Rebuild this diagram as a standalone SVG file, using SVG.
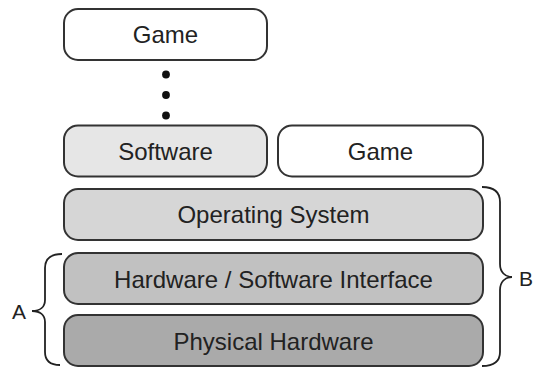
<svg xmlns="http://www.w3.org/2000/svg" width="535" height="367" viewBox="0 0 535 367">
<style>
.box{stroke:#333;stroke-width:2}
.lbl{font-family:"Liberation Sans",Arial,sans-serif;font-size:24px;fill:#222;text-anchor:middle}
.brace{fill:none;stroke:#222;stroke-width:1.8}
.side{font-family:"Liberation Sans",Arial,sans-serif;font-size:21px;fill:#222;text-anchor:middle}
</style>
<rect width="535" height="367" fill="#fff"/>
<g id="game-top">
<rect class="box" x="64" y="9" width="203" height="51" rx="14" fill="#fff"/>
<text class="lbl" x="165.5" y="43.4">Game</text>
</g>
<g id="dots" fill="#111">
<circle cx="166" cy="74.5" r="3.9"/>
<circle cx="166" cy="95" r="3.9"/>
<circle cx="166" cy="115.5" r="3.9"/>
</g>
<g id="software">
<rect class="box" x="64" y="125.5" width="203" height="51" rx="14" fill="#e6e6e6"/>
<text class="lbl" x="165.5" y="159.5">Software</text>
</g>
<g id="game-right">
<rect class="box" x="278" y="125.5" width="205" height="51" rx="14" fill="#fff"/>
<text class="lbl" x="380.5" y="159.5">Game</text>
</g>
<g id="os">
<rect class="box" x="64" y="189" width="419" height="51" rx="14" fill="#d6d6d6"/>
<text class="lbl" x="273.5" y="223">Operating System</text>
</g>
<g id="hwsw">
<rect class="box" x="64" y="253" width="419" height="51" rx="14" fill="#c1c1c1"/>
<text class="lbl" x="273.5" y="287.8">Hardware / Software Interface</text>
</g>
<g id="physical">
<rect class="box" x="64" y="315" width="419" height="51" rx="14" fill="#aaaaaa"/>
<text class="lbl" x="273.5" y="349.8">Physical Hardware</text>
</g>
<g id="connectors">
<path class="brace" d="M62,254 C51,254 45,258 45,268 L45,300 C45,307 40,311 32,311 C40,311 45,315 45,322 L45,352 C45,361 50,365 60,365"/>
<path class="brace" d="M482,187 C494,187 500,192 500,202 L500,264 C500,272 505,277 512,277 C505,277 500,282 500,290 L500,352 C500,361 494,366 482,366"/>
</g>
<g id="label-a"><text class="side" x="19" y="318.5">A</text></g>
<g id="label-b"><text class="side" x="526" y="285.5">B</text></g>
</svg>
